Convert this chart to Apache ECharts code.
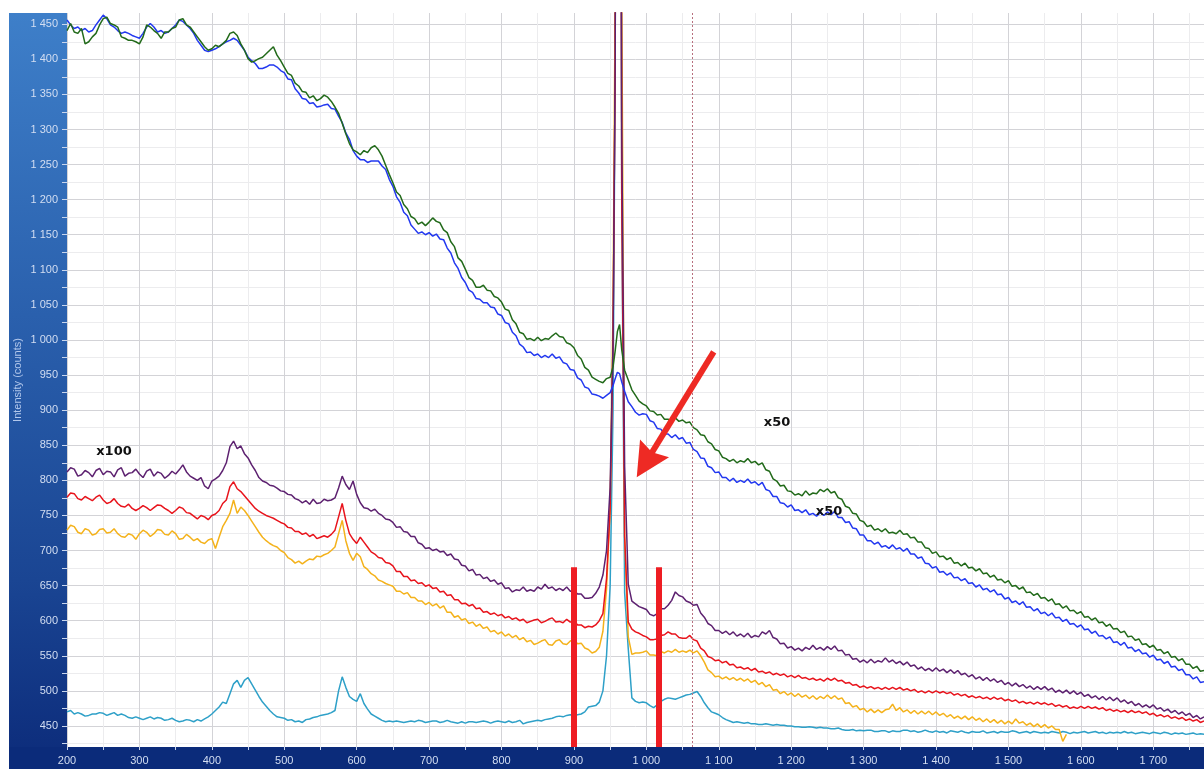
<!DOCTYPE html>
<html>
<head>
<meta charset="utf-8">
<title>Raman spectra</title>
<script src="https://cdn.jsdelivr.net/npm/echarts@6/dist/echarts.min.js"></script>
<style>
  html, body { margin: 0; padding: 0; background: #ffffff; }
  #chart { width: 1204px; height: 769px; }
</style>
</head>
<body>
<div id="chart"></div>
<script>
// Raman shift (cm-1) shared by every spectrum
const shift = [
  200,205,210,215,220,225,230,235,240,245, 250,255,260,265,270,275,280,285,290,295,
  300,305,310,315,320,325,330,335,340,345, 350,355,360,365,370,375,380,385,390,395,
  400,405,410,415,420,425,430,435,440,445, 450,455,460,465,470,475,480,485,490,495,
  500,505,510,515,520,525,530,535,540,545, 550,555,560,565,570,575,580,585,590,595,
  600,605,610,615,620,625,630,635,640,645, 650,655,660,665,670,675,680,685,690,695,
  700,705,710,715,720,725,730,735,740,745, 750,755,760,765,770,775,780,785,790,795,
  800,805,810,815,820,825,830,835,840,845, 850,855,860,865,870,875,880,885,890,895,
  900,905,910,915,920,925,930,
  935,940,945,950,954,957,960,963,966,970,975,980,985,990,
  995,
  1000,1005,1010,1015,1020,1025,1030,1035,1040,1045, 1050,1055,1060,1065,1070,1075,1080,1085,1090,1095,
  1100,1105,1110,1115,1120,1125,1130,1135,1140,1145, 1150,1155,1160,1165,1170,1175,1180,1185,1190,1195,
  1200,1205,1210,1215,1220,1225,1230,1235,1240,1245, 1250,1255,1260,1265,1270,1275,1280,1285,1290,1295,
  1300,1305,1310,1315,1320,1325,1330,1335,1340,1345, 1350,1355,1360,1365,1370,1375,1380,1385,1390,1395,
  1400,1405,1410,1415,1420,1425,1430,1435,1440,1445, 1450,1455,1460,1465,1470,1475,1480,1485,1490,1495,
  1500,1505,1510,1515,1520,1525,1530,1535,1540,1545, 1550,1555,1560,1565,1570,1575,1580,1585,1590,1595,
  1600,1605,1610,1615,1620,1625,1630,1635,1640,1645, 1650,1655,1660,1665,1670,1675,1680,1685,1690,1695,
  1700,1705,1710,1715,1720,1725,1730,1735,1740,1745,
  1750,1755,1760,1765,1770
];

// x50 spectra
const green50 = [
  1441,1451,1439,1437,1444,1422,1425,1432,1437,1449, 1458,1460,1451,1449,1446,1432,1430,1427,1427,1425,
  1422,1432,1449,1446,1441,1437,1430,1439,1439,1444, 1446,1456,1458,1449,1446,1439,1432,1425,1418,1413,
  1415,1420,1418,1422,1427,1437,1439,1434,1422,1413, 1401,1396,1398,1401,1403,1408,1413,1418,1406,1398,
  1389,1380,1377,1366,1362,1354,1353,1345,1348,1341, 1344,1349,1346,1340,1332,1323,1309,1294,1280,1271,
  1268,1264,1270,1267,1274,1277,1271,1262,1249,1236, 1224,1211,1206,1193,1187,1176,1173,1165,1168,1163,
  1168,1174,1169,1167,1157,1153,1140,1133,1117,1112, 1101,1089,1085,1075,1075,1078,1071,1070,1062,1060,
  1054,1044,1042,1029,1023,1011,1009,1001,1002,999, 1004,999,1002,1001,1006,1010,1005,1004,996,994,
  989,978,973,961,957,947,944,
  941,939,945,947,962,985,1012,1022,986,957,943,929,921,913,
  909,
  906,899,898,893,894,887,887,885,889,884, 886,882,883,875,872,865,864,855,852,844,
  842,833,831,827,830,825,828,826,831,825, 827,822,825,815,813,802,799,792,793,785,
  784,779,781,778,785,779,782,781,787,784, 788,782,784,775,773,763,761,753,752,743,
  741,734,736,729,731,727,731,725,726,724, 729,723,724,718,719,712,712,704,703,696,
  698,691,692,687,690,682,683,678,682,675, 676,671,674,667,668,662,665,658,659,654,
  657,649,650,645,648,640,641,636,639,632, 633,628,631,623,624,618,621,614,615,610,
  613,605,606,601,604,597,598,592,595,588, 589,583,585,577,578,572,574,566,567,562,
  565,558,559,553,556,548,549,543,546,538,
  538,532,535,528,529
];
const blue50 = [
  1456,1449,1444,1446,1441,1444,1439,1441,1449,1456, 1463,1458,1449,1446,1441,1437,1439,1437,1434,1432,
  1430,1437,1446,1451,1446,1439,1441,1437,1439,1444, 1449,1456,1454,1449,1444,1437,1427,1420,1413,1411,
  1413,1415,1418,1422,1425,1427,1430,1427,1420,1413, 1403,1398,1394,1387,1387,1389,1392,1392,1389,1384,
  1381,1372,1371,1358,1352,1344,1343,1337,1338,1332, 1333,1335,1336,1330,1329,1319,1310,1295,1286,1270,
  1262,1257,1257,1253,1255,1255,1255,1248,1243,1229, 1219,1204,1196,1182,1177,1164,1158,1152,1154,1150,
  1153,1148,1151,1144,1143,1131,1124,1110,1102,1089, 1082,1071,1068,1059,1058,1053,1053,1047,1046,1037,
  1035,1025,1023,1011,1006,994,990,982,983,978, 980,975,978,975,980,974,976,968,966,958,
  957,946,943,933,931,923,922,
  920,917,921,925,935,945,954,952,940,927,912,905,897,893,
  895,
  894,885,883,874,873,866,866,861,865,859, 861,853,854,844,841,832,831,820,818,811,
  812,804,804,799,803,797,800,797,802,796, 798,793,797,787,785,777,777,768,767,762,
  765,757,758,754,758,751,753,749,754,750, 755,751,756,747,747,740,741,732,731,722,
  722,714,714,709,712,705,707,703,708,702, 704,699,703,695,695,689,691,682,681,675,
  677,669,670,665,668,661,662,657,660,653, 654,648,651,644,646,641,644,637,638,631,
  633,626,628,623,627,619,620,614,617,610, 612,607,611,604,605,599,602,595,596,591,
  594,587,588,582,585,578,579,574,577,569, 570,565,569,561,562,556,559,553,554,548,
  551,544,545,539,542,534,535,529,531,523,
  523,517,520,512,513
];

// x100 spectra
const purple100 = [
  812,818,816,806,808,814,811,805,814,817, 808,813,812,805,815,818,806,810,811,816,
  809,804,813,816,806,812,810,803,807,813, 809,815,822,812,806,803,800,804,792,788,
  799,802,806,814,825,848,856,845,849,838, 832,822,814,804,799,797,793,792,789,785,
  784,780,779,774,772,768,771,766,773,767, 768,773,771,772,775,789,806,794,787,799,
  780,768,761,760,756,759,753,750,745,744, 740,733,734,727,726,720,720,711,709,703,
  704,700,702,698,699,693,695,688,687,679, 678,671,673,665,666,660,662,656,658,652,
  654,646,647,641,644,643,648,642,644,642, 648,645,652,646,648,643,646,643,648,642,
  643,638,638,632,632,633,639,
  648,665,700,790,1000,1400,3500,2800,1300,820,652,628,624,620,
  618,
  616,609,607,610,617,617,622,629,641,636, 634,628,626,622,623,611,605,596,593,586,
  586,582,585,580,584,578,581,577,582,576, 579,577,584,581,586,576,574,567,568,561,
  563,558,561,557,562,559,565,559,562,558, 563,559,564,557,558,551,552,545,546,541,
  544,540,545,540,543,541,547,541,544,539, 542,537,541,535,537,531,534,529,532,528,
  533,528,531,526,530,525,529,523,525,520, 523,517,520,515,519,514,517,512,515,509,
  512,507,511,506,509,504,507,502,506,502, 506,501,504,498,501,497,501,496,500,495,
  498,492,495,490,493,488,492,487,491,486, 490,484,487,482,485,479,482,477,480,476,
  480,474,476,471,474,469,472,467,470,465,
  468,462,465,460,463
];
const red100 = [
  776,782,781,774,772,777,774,771,776,779, 772,767,769,774,767,763,762,766,760,757,
  760,764,761,757,761,765,764,760,757,753, 757,762,760,754,753,749,745,750,748,744,
  750,752,757,767,772,791,798,788,784,778, 772,766,760,756,753,750,748,746,743,740,
  738,733,732,727,727,723,725,720,723,717, 719,721,719,723,729,748,767,743,724,716,
  710,719,712,705,698,695,690,689,683,682, 678,670,670,663,663,657,658,653,654,649,
  651,646,647,641,642,636,637,630,630,624, 625,621,623,617,618,612,613,609,611,607,
  609,604,606,602,604,600,602,597,599,601, 602,597,599,602,604,598,599,597,602,598,
  599,594,594,590,592,591,594,
  600,610,660,760,1000,1400,3200,2600,1200,720,598,588,584,582,
  579,
  577,573,573,574,579,580,584,581,581,576, 575,575,579,573,571,561,557,549,547,543,
  544,540,542,537,538,533,534,531,533,529, 532,527,528,525,527,523,525,522,524,520,
  522,519,522,518,519,516,518,515,517,514, 518,515,518,514,515,511,512,508,509,505,
  507,504,506,503,505,502,505,502,505,502, 505,501,503,500,502,498,500,497,500,497,
  500,497,499,496,498,494,496,493,495,491, 493,490,492,489,491,488,491,488,490,486,
  488,485,487,483,485,482,484,481,484,481, 483,480,482,478,480,477,479,475,477,475,
  478,475,478,475,477,474,476,472,474,471, 473,470,472,469,472,469,471,468,470,466,
  468,464,466,463,465,461,463,460,462,458,
  460,457,459,455,457
];
const yellow100 = [
  729,736,734,726,724,731,729,722,724,730, 731,725,726,731,724,720,719,724,722,716,
  724,729,726,720,724,730,729,723,722,728, 724,716,717,723,719,714,717,712,710,715,
  717,703,719,734,743,753,772,753,762,757, 750,742,734,726,719,714,710,707,705,700,
  697,690,687,682,685,681,685,688,687,692, 691,694,696,700,705,724,743,714,696,686,
  696,691,677,673,667,664,658,656,653,651, 649,642,642,638,640,633,633,628,628,623,
  626,621,624,618,621,612,612,605,607,601, 603,596,598,592,595,589,591,584,586,581,
  584,578,581,576,579,573,576,570,572,566, 568,571,573,566,565,571,573,567,566,571,
  573,567,568,561,559,554,556,
  562,585,645,760,1050,1500,3600,3000,1500,720,577,552,554,554,
  555,
  557,551,551,550,556,554,557,555,559,555, 557,555,558,554,557,550,541,530,526,520,
  521,517,520,516,519,515,518,514,517,512, 515,509,512,506,509,501,502,496,499,494,
  497,492,496,491,494,489,493,488,492,489, 494,489,493,488,490,482,483,477,479,473,
  475,470,474,469,473,469,473,474,481,472, 476,470,473,468,472,467,471,467,471,466,
  470,465,468,463,466,461,464,460,464,459, 463,458,461,456,460,455,459,454,458,453,
  457,453,460,454,456,451,454,449,453,448, 452,447,450,445,445,428,438,null,null,null,
  null,null,null,null,null,null,null,null,null,null, null,null,null,null,null,null,null,null,null,null,
  null,null,null,null,null,null,null,null,null,null,
  null,null,null,null,null
];

// unscaled spectrum
const cyan = [
  470,472,467,469,467,464,465,467,467,469, 468,465,467,469,465,467,465,462,461,463,
  461,459,461,463,460,462,461,458,459,461, 458,456,457,459,458,456,459,457,460,463,
  467,472,477,484,482,496,510,515,505,515, 519,510,501,492,484,478,472,467,463,462,
  461,458,459,456,457,455,459,460,462,463, 465,466,467,469,472,500,520,505,492,488,
  485,496,482,474,467,464,461,458,456,457, 456,457,456,455,456,457,456,458,457,455,
  456,457,457,455,456,458,456,455,454,456, 454,456,456,455,456,457,456,454,456,457,
  456,455,457,455,456,458,453,455,456,457, 458,457,459,460,461,463,464,463,465,466,
  465,466,467,470,477,478,479,
  484,500,550,650,900,1400,3000,2500,1200,640,560,490,485,483,
  484,
  483,479,476,480,485,488,490,489,488,490, 492,494,495,497,499,492,483,476,470,468,
  466,462,459,457,455,456,455,454,455,453, 453,452,452,453,452,451,452,451,451,450,
  450,449,449,448,448,449,448,447,448,447, 447,446,446,447,445,444,444,445,443,444,
  443,444,444,442,442,443,443,441,443,442, 442,444,444,442,443,441,442,444,442,441,
  443,441,442,440,443,442,441,443,441,440, 442,441,441,443,440,441,442,440,442,441,
  441,443,442,440,441,442,440,442,441,440, 441,440,442,441,440,442,441,439,441,440,
  441,442,440,441,442,440,441,439,441,440, 441,440,442,440,441,439,440,441,440,439,
  441,440,439,441,440,438,440,439,440,438,
  439,440,438,439,438
];

// axis ticks and labels
const xLabelValues = [200,300,400,500,600,700,800,900,1000,1100,1200,1300,1400,1500,1600,1700];
const xTickValues = [200,250,300,350,400,450,500,550,600,650,700,750,800,850,900,950,1000,1050,1100,1150,1200,1250,1300,1350,1400,1450,1500,1550,1600,1650,1700,1750];
const yLabelValues = [450,500,550,600,650,700,750,800,850,900,950,1000,1050,1100,1150,1200,1250,1300,1350,1400,1450];
const yTickValues = [425,450,475,500,525,550,575,600,625,650,675,700,725,750,775,800,825,850,875,900,925,950,975,1000,1025,1050,1075,1100,1125,1150,1175,1200,1225,1250,1275,1300,1325,1350,1375,1400,1425,1450];

// band limits and annotations (cm-1, counts)
const bandLimits = [900, 1017];
const bandTop = 676;
const refShift = 1064;
const arrowFrom = [1093, 983];
const arrowTo = [999, 825];

const spectra = [
  { name: 'cyan', values: cyan, color: '#2ea0c8' },
  { name: 'yellow x100', values: yellow100, color: '#f4b21b' },
  { name: 'red x100', values: red100, color: '#e8141c' },
  { name: 'purple x100', values: purple100, color: '#5d2170' },
  { name: 'blue x50', values: blue50, color: '#2238f0' },
  { name: 'green x50', values: green50, color: '#226a1a' }
];

function spaced(v) {
  if (v >= 1000) {
    return Math.floor(v / 1000) + ' ' + String(v % 1000).padStart(3, '0');
  }
  return String(v);
}

const chart = echarts.init(document.getElementById('chart'), null, { renderer: 'canvas' });

const series = spectra.map(s => ({
  name: s.name,
  type: 'line',
  data: shift.map((x, i) => [x, s.values[i] === undefined ? null : s.values[i]]),
  showSymbol: false,
  symbol: 'none',
  clip: true,
  lineStyle: { color: s.color, width: 1.5 },
  itemStyle: { color: s.color },
  emphasis: { disabled: true },
  animation: false
}));

// red band markers
series.push({
  type: 'line', data: [], silent: true, animation: false,
  markLine: {
    silent: true, animation: false, symbol: 'none',
    label: { show: false },
    lineStyle: { color: '#ee1d23', width: 6, type: 'solid' },
    data: bandLimits.map(x => [{ coord: [x, 420] }, { coord: [x, bandTop] }])
  }
});
// thin reference line
series.push({
  type: 'line', data: [], silent: true, animation: false,
  markLine: {
    silent: true, animation: false, symbol: 'none',
    label: { show: false },
    lineStyle: { color: '#b8707e', width: 1, type: [2, 2] },
    data: [[{ coord: [refShift, 420] }, { coord: [refShift, 1466] }]]
  }
});
// arrow pointing at the main band
series.push({
  type: 'line', data: [], silent: true, animation: false, z: 5,
  markLine: {
    silent: true, animation: false,
    symbol: ['none', 'path://M50,0L100,100L50,86L0,100Z'],
    symbolSize: 34,
    label: { show: false },
    lineStyle: { color: '#ee2a24', width: 6, type: 'solid' },
    itemStyle: { color: '#ee2a24' },
    data: [[{ coord: arrowFrom }, { coord: arrowTo }]]
  }
});

const labelColor = '#d3def2';

chart.setOption({
  backgroundColor: '#ffffff',
  animation: false,
  grid: { left: 67, right: 0, top: 13, bottom: 22, outerBoundsMode: 'none', containLabel: false },
  xAxis: {
    type: 'value', min: 200, max: 1770,
    axisLine: { show: false },
    axisTick: { show: true, customValues: xTickValues, length: 3, lineStyle: { color: '#c9d6ee', width: 1 } },
    axisLabel: { customValues: xLabelValues, formatter: spaced, color: labelColor, fontSize: 11, fontFamily: 'Liberation Sans, Arial, sans-serif', margin: 8 },
    splitLine: { show: true, lineStyle: { color: ['#d3d3d7', '#ececee'], width: 1 } }
  },
  yAxis: {
    type: 'value', min: 420, max: 1466,
    name: 'Intensity (counts)', nameLocation: 'middle', nameRotate: 90, nameGap: 49,
    nameMoveOverlap: false,
    nameTextStyle: { color: '#b3c8ec', fontSize: 11, fontFamily: 'Liberation Sans, Arial, sans-serif', verticalAlign: 'middle' },
    axisLine: { show: false },
    axisTick: { show: true, customValues: yTickValues, length: 5, lineStyle: { color: '#c9d6ee', width: 1 } },
    axisLabel: { customValues: yLabelValues, formatter: spaced, color: labelColor, fontSize: 11, fontFamily: 'Liberation Sans, Arial, sans-serif', margin: 9 },
    splitLine: { show: true, lineStyle: { color: ['#ececee', '#d3d3d7'], width: 1 } }
  },
  graphic: [
    {
      type: 'rect', z: -10, silent: true,
      shape: { x: 9, y: 13, width: 58, height: 756 },
      style: {
        fill: new echarts.graphic.LinearGradient(0, 0, 0, 1, [
          { offset: 0, color: '#3e7fc9' },
          { offset: 0.4, color: '#2a60ad' },
          { offset: 0.75, color: '#1a4593' },
          { offset: 1, color: '#0c2b7a' }
        ])
      }
    },
    {
      type: 'rect', z: -10, silent: true,
      shape: { x: 9, y: 747, width: 1195, height: 22 },
      style: { fill: '#0b2b7a' }
    },
    {
      type: 'text', z: 100, silent: true, x: 114, y: 452,
      style: { text: 'x100', fill: '#111111', font: 'bold 13px "DejaVu Sans", Verdana, sans-serif', align: 'center', verticalAlign: 'middle' }
    },
    {
      type: 'text', z: 100, silent: true, x: 777, y: 423,
      style: { text: 'x50', fill: '#111111', font: 'bold 13px "DejaVu Sans", Verdana, sans-serif', align: 'center', verticalAlign: 'middle' }
    },
    {
      type: 'text', z: 100, silent: true, x: 829, y: 512,
      style: { text: 'x50', fill: '#111111', font: 'bold 13px "DejaVu Sans", Verdana, sans-serif', align: 'center', verticalAlign: 'middle' }
    }
  ],
  series: series
});
</script>
</body>
</html>
